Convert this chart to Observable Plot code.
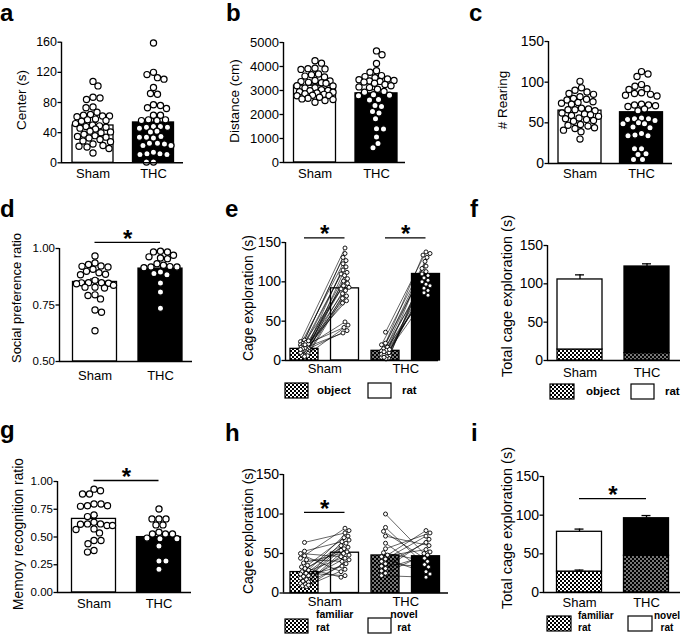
<!DOCTYPE html>
<html><head><meta charset="utf-8">
<script src="https://cdn.jsdelivr.net/npm/d3@7"></script>
<script src="https://cdn.jsdelivr.net/npm/@observablehq/plot@0.6"></script>
<style>
body{margin:0;background:#fff;}
#fig{position:relative;width:685px;height:638px;overflow:hidden;background:#fff;}
#fig svg{position:absolute;left:0;top:0;}
</style></head><body><div id="fig"></div>
<script>
// ---------------- DATA ----------------
const groups = ["Sham", "THC"];

// a: Center (s)
const centerSham = [108, 102, 87, 86, 84, 74, 73, 67, 64, 63, 62, 62, 61, 58, 57, 56, 55, 52, 50, 49, 48, 47, 46, 45, 42, 41, 40, 38, 36, 35, 34, 33, 31, 29, 28, 25, 23, 22, 21, 19, 13];
const centerThc = [159, 120, 117, 113, 111, 100, 92, 91, 77, 76, 73, 72, 63, 63, 57, 57, 56, 56, 48, 48, 47, 47, 46, 42, 41, 35, 34, 34, 33, 26, 26, 25, 23, 23, 14, 12, 12, 11, 11, 1, 1];
const centerMean = [49.5, 53.5];
const centerSem = [4, 6];

// b: Distance (cm)
const distSham = [4240, 4140, 3930, 3910, 3900, 3880, 3690, 3660, 3600, 3560, 3420, 3400, 3370, 3340, 3320, 3300, 3200, 3190, 3110, 3100, 3030, 3000, 2990, 2950, 2930, 2900, 2860, 2840, 2800, 2790, 2780, 2720, 2680, 2650, 2620, 2580, 2510];
const distThc = [4650, 4490, 4130, 3820, 3760, 3620, 3580, 3530, 3480, 3450, 3420, 3400, 3380, 3350, 3300, 3250, 3200, 3150, 3120, 3050, 2960, 2930, 2820, 2800, 2780, 2620, 2600, 2380, 2330, 2120, 2060, 1820, 1410, 1400, 1060, 790, 610];
const distMean = [3200, 2880];
const distSem = [70, 150];

// c: # Rearing
const rearSham = [101, 93, 90, 88, 86, 85, 82, 80, 79, 78, 76, 75, 74, 73, 68, 67, 66, 66, 65, 62, 61, 60, 59, 58, 56, 55, 54, 53, 52, 48, 47, 46, 44, 43, 41, 39, 30];
const rearThc = [113, 110, 107, 97, 95, 92, 91, 87, 86, 85, 84, 83, 73, 72, 72, 71, 70, 67, 65, 56, 55, 55, 54, 53, 50, 49, 49, 45, 44, 37, 35, 34, 34, 18, 18, 12, 11, 5, 5];
const rearMean = [65, 63];
const rearSem = [2.5, 4.5];

// d: Social preference ratio
const socialSham = [0.967, 0.936, 0.929, 0.923, 0.921, 0.918, 0.908, 0.899, 0.893, 0.886, 0.884, 0.859, 0.849, 0.849, 0.848, 0.846, 0.844, 0.837, 0.829, 0.829, 0.825, 0.795, 0.792, 0.777, 0.728, 0.718, 0.636];
const socialThc = [0.988, 0.985, 0.985, 0.970, 0.963, 0.958, 0.955, 0.933, 0.926, 0.920, 0.918, 0.918, 0.915, 0.896, 0.889, 0.884, 0.847, 0.807, 0.736];
const socialMean = [0.852, 0.911];
const socialSem = [0.013, 0.016];

// e: Cage exploration (s), object vs rat (paired)
const objSham = [24, 22, 26, 18, 20, 15, 23, 12, 19, 10, 21, 14, 8, 17, 11, 25, 9, 13, 16, 6, 12, 7, 15, 5, 20, 10, 14];
const ratSham = [143, 136, 131, 127, 123, 119, 115, 112, 110, 108, 104, 101, 98, 95, 93, 91, 89, 85, 82, 79, 76, 73, 49, 45, 42, 38, 35];
const objThc = [36, 4, 22, 9, 20, 6, 15, 3, 12, 8, 17, 5, 10, 13, 7, 2, 11, 4, 14];
const ratThc = [138, 136, 134, 131, 126, 120, 117, 113, 110, 108, 105, 102, 100, 97, 95, 92, 89, 86, 83];
const objMean = [14.8, 12.3];
const ratMean = [91.7, 110];

// f: Total cage exploration (s), stacked object + rat
const totalObjMean = [14.3, 9.6];
const totalRatMean = [91.4, 113];
const totalSem = [6, 3.5];

// g: Memory recognition ratio
const memSham = [0.931, 0.916, 0.887, 0.887, 0.797, 0.797, 0.782, 0.782, 0.776, 0.699, 0.684, 0.633, 0.618, 0.618, 0.615, 0.603, 0.603, 0.573, 0.568, 0.537, 0.469, 0.469, 0.439, 0.379, 0.364];
const memThc = [0.752, 0.663, 0.663, 0.663, 0.609, 0.609, 0.543, 0.528, 0.528, 0.528, 0.49, 0.484, 0.484, 0.418, 0.284, 0.284, 0.209];
const memMean = [0.663, 0.499];
const memSem = [0.03, 0.035];

// h: Cage exploration (s), familiar vs novel rat (paired)
const famSham = [44, 29, 64, 22, 35, 12, 53, 19, 27, 9, 31, 15, 38, 11, 24, 50, 17, 8, 42, 14, 21, 10, 47, 25, 33];
const novSham = [82, 79, 76, 72, 70, 67, 65, 63, 60, 58, 56, 54, 52, 50, 48, 46, 44, 42, 40, 37, 34, 30, 27, 22, 20];
const famThc = [100, 83, 78, 72, 63, 56, 51, 48, 46, 43, 40, 37, 34, 31, 28, 25, 22];
const novThc = [50, 36, 44, 60, 27, 76, 40, 79, 55, 24, 72, 33, 64, 48, 68, 52, 20];
const famMean = [26.5, 47.5];
const novMean = [51, 46.5];

// i: Total cage exploration (s), stacked familiar + novel
const totalFamMean = [27, 47.5];
const totalNovMean = [51.5, 48.5];
const totalFamSem = [2, 0];
const totalNovSem = [3.5, 3.5];

// ---------------- RENDER ----------------
const W = 685, H = 638;
const FONT = '"Liberation Sans", Arial, Helvetica, sans-serif';
const fig = d3.select("#fig");

// checkerboard patterns
const defs = fig.append("svg").attr("width", 0).attr("height", 0).append("defs");
function checker(id, bg, fg) {
  const p = defs.append("pattern").attr("id", id).attr("width", 4).attr("height", 4).attr("patternUnits", "userSpaceOnUse");
  p.append("rect").attr("width", 4).attr("height", 4).attr("fill", bg);
  p.append("rect").attr("width", 2).attr("height", 2).attr("fill", fg);
  p.append("rect").attr("x", 2).attr("y", 2).attr("width", 2).attr("height", 2).attr("fill", fg);
}
checker("chkL", "white", "black");
checker("chkD", "black", "#777");

// scatter layout (pixel offsets): beeswarm limited to +-maxOff
function dodge(values, pxPerUnit, r, pad, maxOff) {
  const idx = d3.range(values.length).sort((a, b) => values[b] - values[a] || a - b);
  const placed = [], off = new Array(values.length);
  const minD = 2 * r + pad;
  const cands = [0];
  for (let c = 0.5; c <= maxOff + 1e-9; c += 0.5) cands.push(c, -c);
  idx.forEach((k, j) => {
    const y = values[k] * pxPerUnit;
    let best = 0, bestD = -1;
    const order = j % 2 ? cands : cands.map(c => -c);
    for (const cx of order) {
      let md = Infinity;
      for (const p of placed) { const dd = Math.hypot(p.x - cx, p.y - y); if (dd < md) md = dd; }
      if (md >= minD) { best = cx; bestD = md; break; }
      if (md > bestD + 0.01) { bestD = md; best = cx; }
    }
    placed.push({x: best, y});
    off[k] = best;
  });
  return off;
}

function panel(cfg) {
  const [l, r, t, b] = cfg.frame;
  const c = cfg.centers;
  const step = (c[c.length - 1] - c[0]) / (c.length - 1);
  const u = px => px / step;
  const xDomain = [(l - c[0]) / step, (r - c[0]) / step];
  const [y0, y1] = cfg.yDomain;
  const ppu = (b - t) / (y1 - y0);
  const hw = u(cfg.halfWidth);
  const marks = [];
  for (const bar of cfg.bars) {
    marks.push(Plot.rect([bar], {x1: d => d.i - hw, x2: d => d.i + hw, y1: d => d.lo ?? y0, y2: d => d.hi,
      fill: bar.fill, stroke: "black", strokeWidth: 1.3}));
  }
  if (cfg.errs) {
    const errs = cfg.errs.filter(d => d.sem > 0);
    marks.push(Plot.ruleX(errs, {x: "i", y1: "mean", y2: d => d.mean + d.sem, strokeWidth: 1.3}));
    marks.push(Plot.ruleY(errs, {y: d => d.mean + d.sem, x1: d => d.i - u(4.5), x2: d => d.i + u(4.5), strokeWidth: 1.3}));
  }
  const dots = [];
  const links = [];
  if (cfg.dotGroups) {
    for (const g of cfg.dotGroups) {
      const off = dodge(g.values.map(v => v - y0), ppu, cfg.r, cfg.pad, cfg.maxOff);
      g.values.forEach((v, k) => dots.push({x: g.i + u(off[k]), v}));
    }
  }
  if (cfg.pairs) {
    for (const p of cfg.pairs) {
      const offA = dodge(p.a.map(v => v - y0), ppu, cfg.r, cfg.pad, cfg.maxOff);
      const offB = dodge(p.b.map(v => v - y0), ppu, cfg.r, cfg.pad, cfg.maxOff);
      p.a.forEach((v, k) => {
        const xa = p.iA + u(offA[k]), xb = p.iB + u(offB[k]);
        links.push({x1: xa, y1: v, x2: xb, y2: p.b[k]});
        dots.push({x: xa, v});
        dots.push({x: xb, v: p.b[k]});
      });
    }
  }
  if (links.length) marks.push(Plot.link(links, {x1: "x1", y1: "y1", x2: "x2", y2: "y2", stroke: "black", strokeWidth: 0.6}));
  if (dots.length) marks.push(Plot.dot(dots, {x: "x", y: "v", r: cfg.r, fill: "white", stroke: "black", strokeWidth: cfg.sw}));
  marks.push(Plot.ruleX([xDomain[0]], {strokeWidth: 1.4}));
  marks.push(Plot.ruleY([y0], {strokeWidth: 1.4}));
  marks.push(Plot.axisY({ticks: cfg.yTicks, tickFormat: cfg.yFormat ?? (d => String(d)), tickSize: 3.5, tickPadding: 1, fontSize: cfg.tickFont, label: null, strokeWidth: 1.3}));
  marks.push(Plot.axisX({ticks: cfg.xTicks, tickFormat: d => cfg.xLabels[cfg.xTicks.indexOf(d)], tickSize: 0, tickPadding: cfg.xPad, fontSize: 13, label: null}));
  if (cfg.sig) {
    marks.push(Plot.ruleY(cfg.sig, {y: "y", x1: "from", x2: "to", strokeWidth: 1.3}));
    marks.push(Plot.text(cfg.sig, {x: d => (d.from + d.to) / 2, y: "y", text: () => "*", fontSize: 24, fontWeight: "bold", lineAnchor: "middle", dy: -3}));
  }
  const svg = Plot.plot({
    width: W, height: H,
    marginLeft: l, marginRight: W - r, marginTop: t, marginBottom: H - b,
    style: {background: "transparent", fontFamily: FONT, fontSize: "13px", color: "black", overflow: "visible"},
    x: {type: "linear", domain: xDomain},
    y: {type: "linear", domain: cfg.yDomain},
    marks
  });
  fig.node().appendChild(svg);
}

const twoBars = (means, fills) => means.map((m, i) => ({i, hi: m, fill: fills[i]}));
const errRows = (means, sems) => means.map((m, i) => ({i, mean: m, sem: sems[i]}));
const F2 = d3.format(".2f");
const SCAT = {r: 3.1, sw: 1.2, pad: 0.4};

// a
panel({frame: [61, 183, 41.7, 162.3], centers: [92.5, 153], halfWidth: 20.5, yDomain: [0, 160], yTicks: [0, 40, 80, 120, 160], tickFont: 12.5, xPad: 6,
  xTicks: [0, 1], xLabels: groups, bars: twoBars(centerMean, ["white", "black"]), errs: errRows(centerMean, centerSem),
  dotGroups: [{i: 0, values: centerSham}, {i: 1, values: centerThc}], ...SCAT, maxOff: 17.5});
// b
panel({frame: [283, 405, 42, 162], centers: [314.5, 376], halfWidth: 21, yDomain: [0, 5000], yTicks: [0, 1000, 2000, 3000, 4000, 5000], tickFont: 13, xPad: 6,
  xTicks: [0, 1], xLabels: groups, bars: twoBars(distMean, ["white", "black"]), errs: errRows(distMean, distSem),
  dotGroups: [{i: 0, values: distSham}, {i: 1, values: distThc}], ...SCAT, maxOff: 18});
// c
panel({frame: [548, 672, 41, 163], centers: [579.5, 641], halfWidth: 21.5, yDomain: [0, 150], yTicks: [0, 50, 100, 150], tickFont: 14, xPad: 5,
  xTicks: [0, 1], xLabels: groups, bars: twoBars(rearMean, ["white", "black"]), errs: errRows(rearMean, rearSem),
  dotGroups: [{i: 0, values: rearSham}, {i: 1, values: rearThc}], ...SCAT, maxOff: 18.5});
// d
panel({frame: [59, 192, 248, 361], centers: [94.5, 160], halfWidth: 22, yDomain: [0.5, 1], yTicks: [0.5, 0.75, 1], yFormat: F2, tickFont: 11.5, xPad: 9,
  xTicks: [0, 1], xLabels: groups, bars: twoBars(socialMean, ["white", "black"]), errs: errRows(socialMean, socialSem),
  dotGroups: [{i: 0, values: socialSham}, {i: 1, values: socialThc}], ...SCAT, maxOff: 18.5,
  sig: [{from: 0, to: 1, y: 1.027}]});
// e
panel({frame: [285, 438, 242, 360], centers: [304, 344.5, 385, 425.5], halfWidth: 14, yDomain: [0, 150], yTicks: [0, 50, 100, 150], tickFont: 14, xPad: 3.5,
  xTicks: [0.5, 2.5], xLabels: groups,
  bars: [{i: 0, hi: objMean[0], fill: "url(#chkL)"}, {i: 1, hi: ratMean[0], fill: "white"}, {i: 2, hi: objMean[1], fill: "url(#chkD)"}, {i: 3, hi: ratMean[1], fill: "black"}],
  pairs: [{iA: 0, iB: 1, a: objSham, b: ratSham}, {iA: 2, iB: 3, a: objThc, b: ratThc}], r: 2, sw: 0.9, pad: 0.3, maxOff: 4,
  sig: [{from: 0, to: 1, y: 156}, {from: 2, to: 3, y: 156}]});
// f
panel({frame: [547, 680, 245, 360], centers: [579.5, 646.5], halfWidth: 22.5, yDomain: [0, 150], yTicks: [0, 50, 100, 150], tickFont: 14, xPad: 7,
  xTicks: [0, 1], xLabels: groups,
  bars: [
    {i: 0, lo: 0, hi: totalObjMean[0], fill: "url(#chkL)"}, {i: 0, lo: totalObjMean[0], hi: totalObjMean[0] + totalRatMean[0], fill: "white"},
    {i: 1, lo: 0, hi: totalObjMean[1], fill: "url(#chkD)"}, {i: 1, lo: totalObjMean[1], hi: totalObjMean[1] + totalRatMean[1], fill: "black"}],
  errs: [{i: 0, mean: totalObjMean[0] + totalRatMean[0], sem: totalSem[0]}, {i: 1, mean: totalObjMean[1] + totalRatMean[1], sem: totalSem[1]}]});
// g
panel({frame: [57, 191, 481, 592], centers: [93.5, 158.5], halfWidth: 22, yDomain: [0, 1], yTicks: [0, 0.25, 0.5, 0.75, 1], yFormat: F2, tickFont: 11.5, xPad: 6,
  xTicks: [0, 1], xLabels: groups, bars: twoBars(memMean, ["white", "black"]), errs: errRows(memMean, memSem),
  dotGroups: [{i: 0, values: memSham}, {i: 1, values: memThc}], ...SCAT, maxOff: 18.5,
  sig: [{from: 0, to: 1, y: 1.009}]});
// h
panel({frame: [283, 448, 474, 592.5], centers: [304, 344.5, 385, 425.5], halfWidth: 14, yDomain: [0, 150], yTicks: [0, 50, 100, 150], tickFont: 14, xPad: 3.5,
  xTicks: [0.5, 2.5], xLabels: groups,
  bars: [{i: 0, hi: famMean[0], fill: "url(#chkL)"}, {i: 1, hi: novMean[0], fill: "white"}, {i: 2, hi: famMean[1], fill: "url(#chkD)"}, {i: 3, hi: novMean[1], fill: "black"}],
  pairs: [{iA: 0, iB: 1, a: famSham, b: novSham}, {iA: 2, iB: 3, a: famThc, b: novThc}], r: 2, sw: 0.9, pad: 0.3, maxOff: 4,
  sig: [{from: 0, to: 1, y: 102}]});
// i
panel({frame: [543, 680, 476, 592], centers: [579, 646], halfWidth: 22.5, yDomain: [0, 150], yTicks: [0, 50, 100, 150], tickFont: 14, xPad: 5,
  xTicks: [0, 1], xLabels: groups,
  bars: [
    {i: 0, lo: 0, hi: totalFamMean[0], fill: "url(#chkL)"}, {i: 0, lo: totalFamMean[0], hi: totalFamMean[0] + totalNovMean[0], fill: "white"},
    {i: 1, lo: 0, hi: totalFamMean[1], fill: "url(#chkD)"}, {i: 1, lo: totalFamMean[1], hi: totalFamMean[1] + totalNovMean[1], fill: "black"}],
  errs: [{i: 0, mean: totalFamMean[0], sem: totalFamSem[0]}, {i: 0, mean: totalFamMean[0] + totalNovMean[0], sem: totalNovSem[0]},
         {i: 1, mean: totalFamMean[1] + totalNovMean[1], sem: totalNovSem[1]}],
  sig: [{from: 0, to: 1, y: 121.5}]});

// ---------------- ANNOTATIONS ----------------
const ov = fig.append("svg").attr("width", W).attr("height", H).style("font-family", FONT);
const letters = [["a", 0, 21], ["b", 226, 21], ["c", 469, 21], ["d", 0, 217], ["e", 225, 217], ["f", 470, 217], ["g", 0, 438], ["h", 225, 441], ["i", 471, 441]];
letters.forEach(([s, x, y]) => ov.append("text").attr("x", x).attr("y", y).attr("font-size", 24).attr("font-weight", "bold").text(s));
const yTitles = [
  ["Center (s)", 21, 100, 13.5], ["Distance (cm)", 234, 101, 13.5], ["# Rearing", 502, 100, 13.5],
  ["Social preference ratio", 16, 298, 13], ["Cage exploration (s)", 248.5, 298, 14], ["Total cage exploration (s)", 507, 296, 14.5],
  ["Memory recognition ratio", 18, 534, 13.8], ["Cage exploration (s)", 248.5, 531, 14], ["Total cage exploration (s)", 507, 528, 14.5]];
yTitles.forEach(([s, x, y, fs]) => ov.append("text").attr("transform", `translate(${x},${y}) rotate(-90)`)
  .attr("text-anchor", "middle").attr("dy", "0.35em").attr("font-size", fs).text(s));

function box(x, y, w, h, fill) {
  ov.append("rect").attr("x", x).attr("y", y).attr("width", w).attr("height", h).attr("fill", fill).attr("stroke", "black").attr("stroke-width", 1.2);
}
function lab(s, x, y, fs, anchor = "start") {
  ov.append("text").attr("x", x).attr("y", y).attr("font-size", fs).attr("font-weight", "bold").attr("text-anchor", anchor).text(s);
}
// e legend
box(285, 383, 23, 15, "url(#chkL)"); lab("object", 317, 394, 11.5);
box(368, 383, 23, 15, "white"); lab("rat", 402, 394, 11.5);
// f legend
box(550, 384, 24, 15, "url(#chkL)"); lab("object", 586, 395, 11.5);
box(631, 384, 23, 15, "white"); lab("rat", 665, 395, 11.5);
// h legend
box(285, 619, 23, 14, "url(#chkL)"); lab("familiar", 316, 618, 10.5); lab("rat", 316, 631, 10.5);
box(368, 618, 23, 15, "white"); lab("novel", 404, 618, 10.5, "middle"); lab("rat", 404, 631, 10.5, "middle");
// i legend
box(547, 616, 24, 15, "url(#chkL)"); lab("familiar", 578, 619, 10); lab("rat", 578, 631, 10);
box(628, 616, 24, 15, "white"); lab("novel", 667, 619, 10, "middle"); lab("rat", 667, 631, 10, "middle");
</script>
</body></html>
